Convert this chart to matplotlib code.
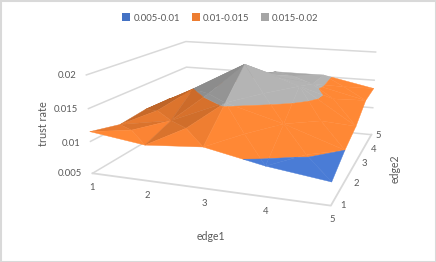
import numpy as np
import matplotlib
matplotlib.use('Agg')
import matplotlib.pyplot as plt
from matplotlib.colors import to_rgb
from matplotlib.patches import Patch, Rectangle
from mpl_toolkits.mplot3d.art3d import Poly3DCollection

plt.rcParams['font.family'] = ['Lato', 'DejaVu Sans']

edge1 = [1, 2, 3, 4, 5]
edge2 = [1, 2, 3, 4, 5]
z_ticks = [0.005, 0.01, 0.015, 0.02]
z_labels = ['0.005', '0.01', '0.015', '0.02']
# rows are edge2, columns are edge1
trust_rate = np.array([
    [0.0115, 0.0104, 0.0111, 0.0094, 0.0083],
    [0.0103, 0.0118, 0.0154, 0.0130, 0.0100],
    [0.0107, 0.0150, 0.0197, 0.0168, 0.0112],
    [0.0105, 0.0138, 0.0165, 0.0154, 0.0133],
    [0.0099, 0.0125, 0.0153, 0.0153, 0.0135],
])
band_edges = [0.005, 0.01, 0.015, 0.02]
band_labels = ['0.005-0.01', '0.01-0.015', '0.015-0.02']
band_colors = ['#4472C4', '#ED7D31', '#A5A5A5']

W, H = 436, 262
TXT = '#595959'
GRID = '#D9D9D9'


def clip_band(tri, lo, hi):
    # keep the part of a triangle between two heights
    for level, keep_above in ((lo, True), (hi, False)):
        out = []
        n = len(tri)
        for i in range(n):
            a, b = tri[i], tri[(i + 1) % n]
            a_in = a[2] >= level if keep_above else a[2] <= level
            b_in = b[2] >= level if keep_above else b[2] <= level
            if a_in:
                out.append(a)
            if a_in != b_in:
                t = (level - a[2]) / (b[2] - a[2])
                out.append(a + t * (b - a))
        tri = out
        if len(tri) < 3:
            return []
    return tri


def shade(tri, color):
    u, v = tri[1] - tri[0], tri[2] - tri[0]
    n = np.cross(u * [1, 1, 150], v * [1, 1, 150])
    n = n / np.linalg.norm(n)
    if n[2] < 0:
        n = -n
    k = 1.03 + 0.6 * n @ np.array([0.85, -0.35, 0.0])
    k = np.clip(k, 0.76, 1.09)
    return tuple(np.clip(np.array(to_rgb(color)) * k, 0, 1))


polys, colors = [], []
for j in range(len(edge2) - 1):
    for i in range(len(edge1) - 1):
        c = [np.array([edge1[i + a], edge2[j + b], trust_rate[j + b, i + a]], float)
             for a, b in ((0, 0), (1, 0), (1, 1), (0, 1))]
        mid = sum(c) / 4
        for k in range(4):
            tri = [c[k], c[(k + 1) % 4], mid]
            for b, fc in enumerate(band_colors):
                piece = clip_band(tri, band_edges[b], band_edges[b + 1])
                if piece:
                    polys.append(np.array(piece))
                    colors.append(shade(tri, fc))

fig = plt.figure(figsize=(W / 100, H / 100), dpi=100)
fig.patch.set_facecolor('white')
side = 311.6
ax = fig.add_axes([84.66 / W, -6.13 / H, side / W, side / H], projection='3d')
ax.set_xlim(edge1[0], edge1[-1])
ax.set_ylim(edge2[0], edge2[-1])
ax.set_zlim(z_ticks[0], z_ticks[-1])
ax.view_init(elev=14.484, azim=-70.353)
ax.set_proj_type('persp', focal_length=0.3806)
ax.set_box_aspect((1.0621, 1, 0.4403))
ax.set_axis_off()
ax.patch.set_alpha(0)
ax.computed_zorder = False

for z in z_ticks:
    ax.plot([1, 1, 5], [1, 5, 5], [z, z, z], color=GRID, lw=1.1, zorder=1)
ax.plot([1, 5, 5], [1, 1, 5], [0.005, 0.005, 0.005], color=GRID, lw=1.3, zorder=1)

surf = Poly3DCollection(polys, facecolors=colors, edgecolors=colors, linewidths=0.3, zorder=2)
ax.add_collection3d(surf)


def label(x, y, s, size=6.8, **kw):
    fig.text(x / W, 1 - y / H, s, color=TXT, fontsize=size, ha='center', va='center', **kw)


for s, x, y in zip(z_labels, [70, 71, 66, 67], [174, 143, 110, 76]):
    label(x, y, s)
for v, x, y in zip(edge1, [92, 147, 204, 266, 332], [188, 195, 203, 212, 220]):
    label(x, y, str(v))
for v, x, y in zip(edge2, [343, 356, 364, 374, 378], [205, 183, 164, 149, 135]):
    label(x, y, str(v))
label(43, 124, 'trust rate', size=7.8, rotation=90)
label(211, 237, 'edge1', size=7.6)
label(395, 169, 'edge2', size=7.6, rotation=90)

handles = [Patch(facecolor=c, label=l) for c, l in zip(band_colors, band_labels)]
fig.legend(handles=handles, loc='center', bbox_to_anchor=(220.5 / W, 1 - 18 / H), ncol=3,
           frameon=False, fontsize=6.8, labelcolor=TXT, handlelength=0.85, handleheight=0.85,
           handletextpad=0.35, columnspacing=1.2, borderpad=0)
fig.add_artist(Rectangle((0, 0), 1, 1, transform=fig.transFigure, fill=False, edgecolor=GRID, lw=2.2))
fig.savefig('out.png', dpi=100)
